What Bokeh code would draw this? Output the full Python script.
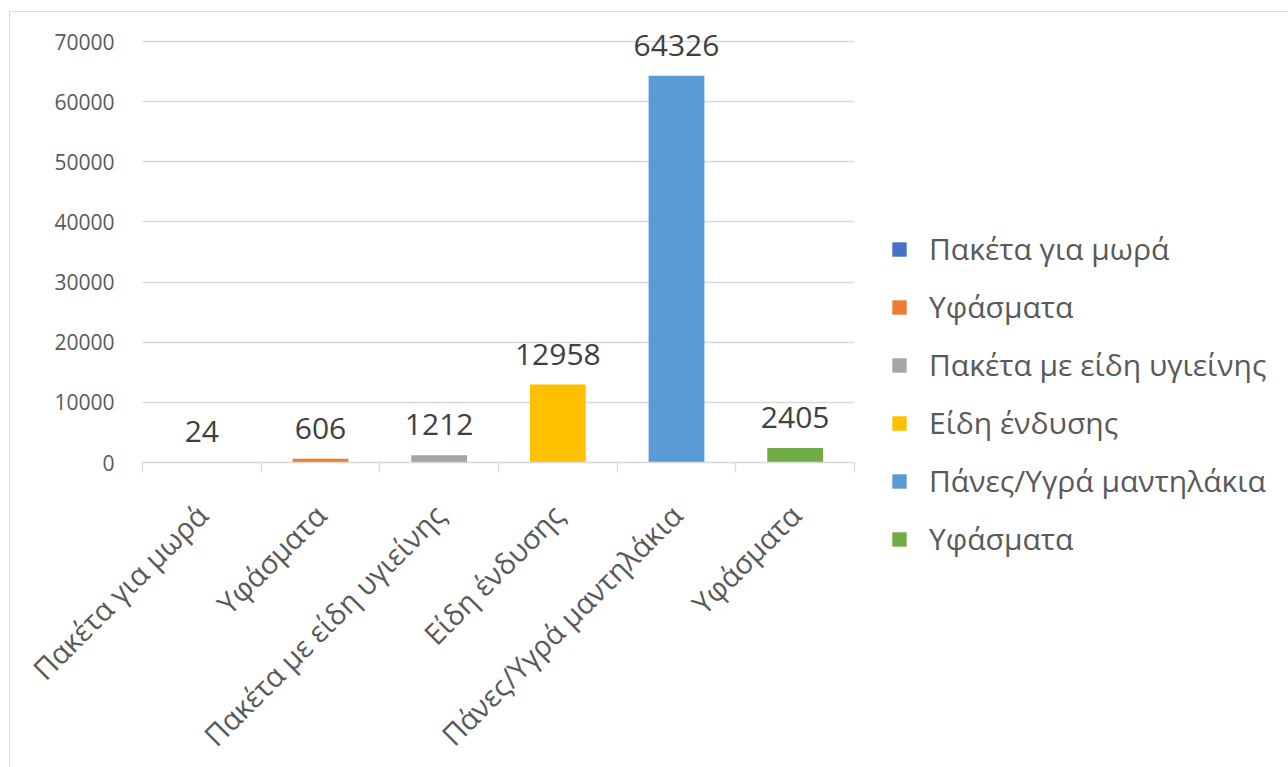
import math
from bokeh.plotting import figure
from bokeh.core.properties import value
from bokeh.models import (ColumnDataSource, Range1d, FixedTicker, LinearAxis, LabelSet,
                          Legend, LegendItem, NumeralTickFormatter)
from bokeh.embed import file_html
from bokeh.resources import INLINE

categories = ["Πακέτα για μωρά", "Υφάσματα", "Πακέτα με είδη υγιείνης",
              "Είδη ένδυσης", "Πάνες/Υγρά μαντηλάκια", "Υφάσματα"]
values = [24, 606, 1212, 12958, 64326, 2405]
colors = ["#4472C4", "#ED7D31", "#A5A5A5", "#FFC000", "#5B9BD5", "#70AD47"]
y_ticks = [0, 10000, 20000, 30000, 40000, 50000, 60000, 70000]

FONT = "Open Sans"
TXT = "#595959"
GRID = "#D9D9D9"

n = len(categories)
xs = list(range(1, n + 1))
src = ColumnDataSource(dict(x=xs, top=values, color=colors, name=categories,
                            lbl=[str(v) for v in values]))

# plot area: 421 px for the 0..70000 span, plus some headroom for the top label
span_px = 421
frame_h = 445
y_end = y_ticks[-1] * frame_h / span_px

p = figure(frame_width=712, frame_height=frame_h, x_range=Range1d(0.5, n + 0.5),
           y_range=Range1d(0, y_end), x_axis_type=None,
           output_backend="svg", toolbar_location=None,
           min_border_left=132, min_border_top=5, min_border_right=5,
           min_border_bottom=291)
p.styles = {"margin-left": "9px", "margin-top": "11px",
            "border-left": "1px solid #D9D9D9", "border-top": "1px solid #D9D9D9"}
p.outline_line_color = None
p.background_fill_color = "white"
p.border_fill_color = "white"

# y axis
p.yaxis.ticker = FixedTicker(ticks=y_ticks)
p.yaxis.formatter = NumeralTickFormatter(format="0")
p.yaxis.axis_line_color = None
p.yaxis.major_tick_line_color = None
p.yaxis.minor_tick_line_color = None
p.yaxis.major_label_text_font = FONT
p.yaxis.major_label_text_font_size = "21px"
p.yaxis.major_label_text_color = TXT
p.yaxis.major_label_standoff = 22
p.ygrid.ticker = FixedTicker(ticks=y_ticks)
p.ygrid.grid_line_color = GRID
p.ygrid.grid_line_width = 1.3
p.xgrid.grid_line_color = None

# x axis: labels at category centres, tick marks at category boundaries
x_axis = LinearAxis(ticker=FixedTicker(ticks=xs,
                                       minor_ticks=[i + 0.5 for i in range(n + 1)]),
                    major_label_overrides={i: c for i, c in zip(xs, categories)},
                    major_label_orientation=math.pi / 4,
                    major_label_text_font=FONT, major_label_text_font_size="29px",
                    major_label_text_color=TXT, major_label_standoff=37,
                    axis_line_color=GRID, axis_line_width=1.3,
                    major_tick_line_color=None, major_tick_in=0, major_tick_out=0,
                    minor_tick_line_color=GRID, minor_tick_line_width=1.3,
                    minor_tick_in=0, minor_tick_out=10)
p.add_layout(x_axis, "below")

bars = p.vbar(x="x", top="top", width=0.47, source=src, fill_color="color",
              line_color=None)

labels = LabelSet(x="x", y="top", text="lbl", source=src, y_offset=20,
                  text_align="center", text_baseline="alphabetic",
                  text_font=value(FONT), text_font_size=value("30px"),
                  text_color="#404040")
p.add_layout(labels)

items = [LegendItem(label=c, renderers=[bars], index=i) for i, c in enumerate(categories)]
legend = Legend(items=items, location=(36, -97), border_line_color=None,
                background_fill_alpha=0, glyph_width=18, glyph_height=18,
                label_text_font=FONT, label_text_font_size="30px",
                label_text_color=TXT, label_standoff=21, spacing=17,
                label_height=40, padding=0, margin=0)
p.add_layout(legend, "right")

open("out.html", "w").write(file_html(p, INLINE))
